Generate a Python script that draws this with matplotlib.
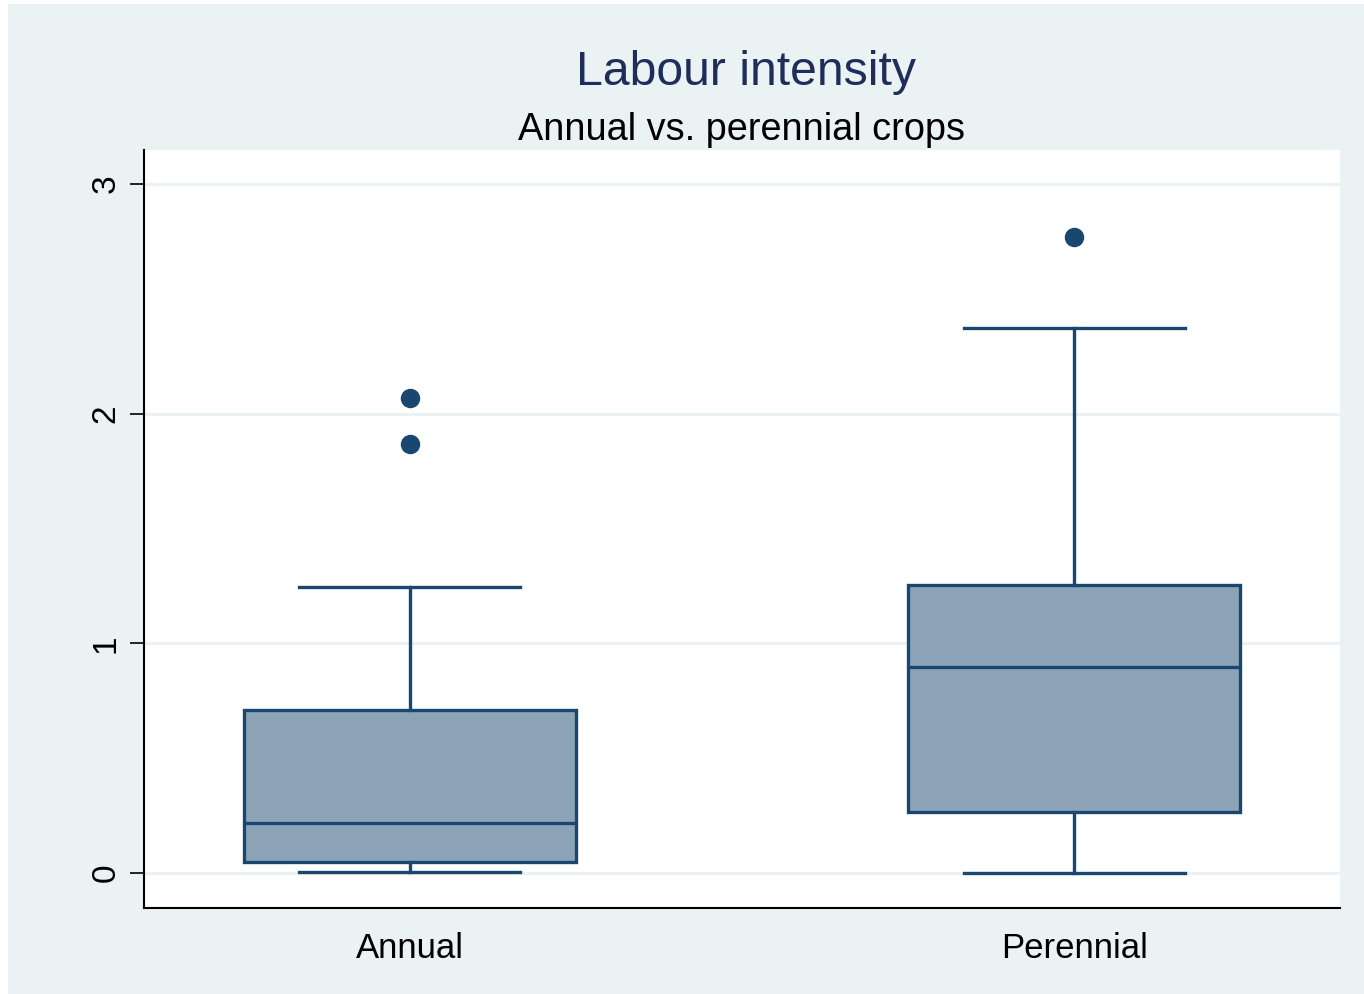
import matplotlib
matplotlib.use("Agg")
import matplotlib.pyplot as plt
from matplotlib.patches import Rectangle

# box statistics
groups = ["Annual", "Perennial"]
whislo = [0.005, 0.0]
q1 = [0.048, 0.265]
med = [0.22, 0.897]
q3 = [0.71, 1.254]
whishi = [1.245, 2.373]
fliers = [[2.07, 1.87], [2.77]]

navy = "#1A476F"
fill = "#8DA4B8"
bg = "#EAF2F3"

plt.rcParams["font.family"] = ["Liberation Sans", "DejaVu Sans"]

fig = plt.figure(figsize=(13.64, 9.94), dpi=100, facecolor="white")
fig.patches.append(Rectangle((8 / 1364, 0), 1 - 8 / 1364, 990 / 994,
                             transform=fig.transFigure, facecolor=bg,
                             edgecolor="none", zorder=0))
ax = fig.add_axes([144 / 1364, 1 - 908 / 994, 1196 / 1364, 758 / 994])
ax.set_zorder(2)
ax.set_facecolor("white")

stats = []
for i in range(len(groups)):
    stats.append(dict(label=groups[i], whislo=whislo[i], q1=q1[i], med=med[i],
                      q3=q3[i], whishi=whishi[i], fliers=fliers[i]))

lw = 2.4
ax.bxp(stats, positions=[1, 2], widths=0.5, patch_artist=True,
       showcaps=True, capwidths=0.333,
       boxprops=dict(facecolor=fill, edgecolor=navy, linewidth=lw),
       medianprops=dict(color=navy, linewidth=lw),
       whiskerprops=dict(color=navy, linewidth=lw),
       capprops=dict(color=navy, linewidth=lw),
       flierprops=dict(marker="o", markerfacecolor=navy, markeredgecolor=navy,
                       markersize=13))

ax.set_xlim(0.6, 2.4)
ax.set_ylim(-0.152, 3.148)
ax.set_yticks([0, 1, 2, 3])
ax.set_yticklabels(["0", "1", "2", "3"], rotation=90, va="center")
ax.yaxis.grid(True, color=bg, linewidth=2.2)
ax.set_axisbelow(True)
ax.tick_params(axis="y", length=10, width=1.2, labelsize=24, pad=6)
ax.tick_params(axis="x", length=0, labelsize=25, pad=17)

for s in ["top", "right"]:
    ax.spines[s].set_visible(False)
for s in ["left", "bottom"]:
    ax.spines[s].set_linewidth(1.5)
    ax.spines[s].set_color("black")

ax.text(0.5 + 4 / 1196, 1 + (150 - 85) / 758, "Labour intensity",
        transform=ax.transAxes, ha="center", va="baseline", fontsize=34.7,
        color="#1E2D5A")
ax.text(0.5, 1 + (150 - 140) / 758, "Annual vs. perennial crops",
        transform=ax.transAxes, ha="center", va="baseline", fontsize=27.3,
        color="black")

fig.savefig("out.png", dpi=100, facecolor=fig.get_facecolor())
